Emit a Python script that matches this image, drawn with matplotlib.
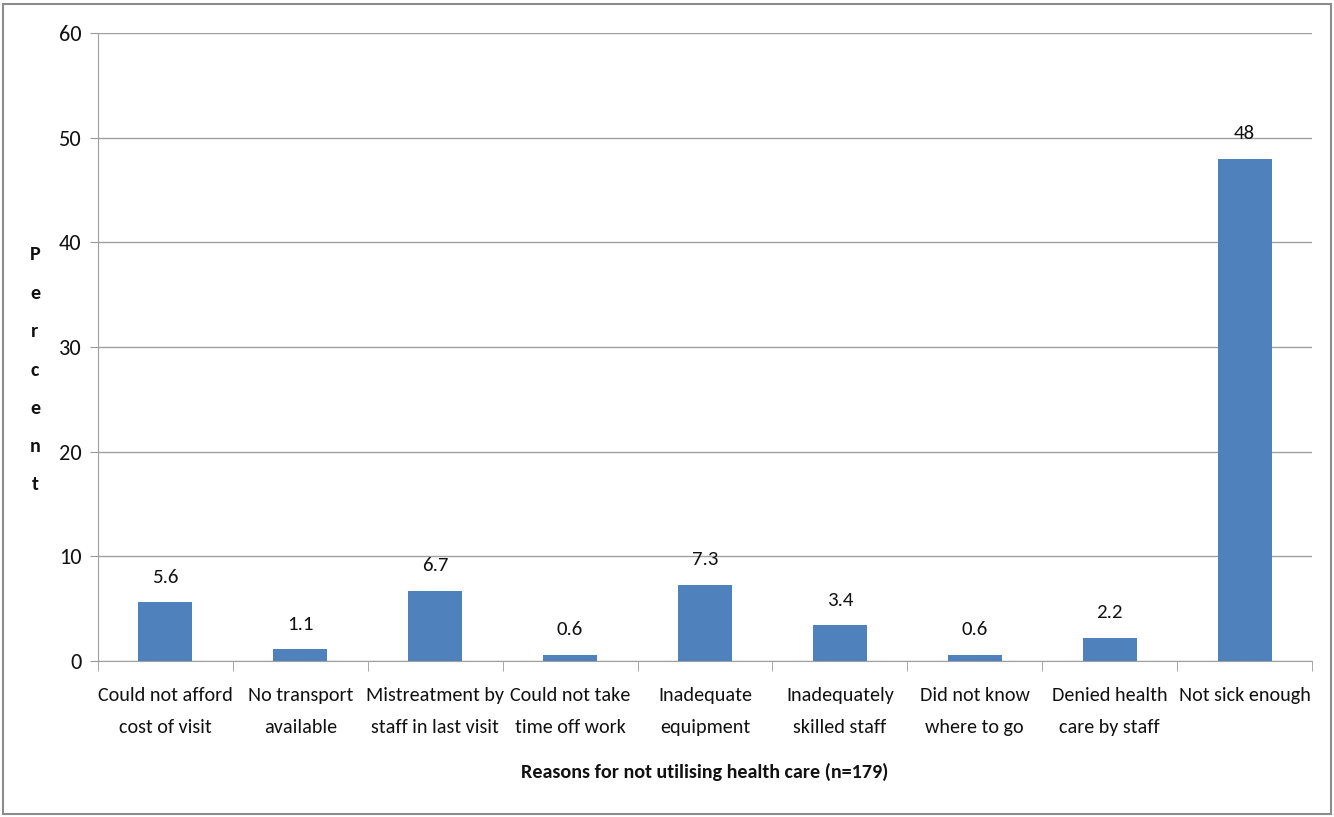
import matplotlib
matplotlib.use("Agg")
import matplotlib.pyplot as plt
from matplotlib.patches import Rectangle
from matplotlib import font_manager

categories = ["Could not afford\ncost of visit", "No transport\navailable",
              "Mistreatment by\nstaff in last visit", "Could not take\ntime off work",
              "Inadequate\nequipment", "Inadequately\nskilled staff",
              "Did not know\nwhere to go", "Denied health\ncare by staff",
              "Not sick enough"]
values = [5.6, 1.1, 6.7, 0.6, 7.3, 3.4, 0.6, 2.2, 48]
labels = ["5.6", "1.1", "6.7", "0.6", "7.3", "3.4", "0.6", "2.2", "48"]
yticks = [0, 10, 20, 30, 40, 50, 60]
ylabel = "Percent"
xlabel = "Reasons for not utilising health care (n=179)"

names = {f.name for f in font_manager.fontManager.ttflist}
fam = "Open Sans"
for cand in ["Carlito", "Calibri", "Liberation Sans Narrow", "Open Sans Condensed",
             "Roboto Condensed", "PT Sans Narrow", "Archivo Narrow", "Fira Sans Condensed"]:
    if cand in names:
        fam = cand
        break
plt.rcParams['font.family'] = [fam, 'DejaVu Sans']

W, H = 1334, 817
fig = plt.figure(figsize=(W/100, H/100), dpi=100)
ax = fig.add_axes([98/W, 1-661/H, (1312-98)/W, (661-33)/H])

x = list(range(len(values)))
ax.bar(x, values, width=0.4, color="#4f81bd", zorder=3)
for xi, v, lab in zip(x, values, labels):
    ax.annotate(lab, (xi, v), xytext=(0, 12), textcoords="offset points",
                ha="center", va="bottom", fontsize=15, color="#111111")

ax.set_xlim(-0.5, len(values) - 0.5)
ax.set_ylim(0, 60)
ax.set_yticks(yticks)
ax.tick_params(axis="y", labelsize=16, length=6, color="#999999", pad=6, labelcolor="#111111")
ax.grid(axis="y", color="#a0a0a0", linewidth=1.0, zorder=0)

ax.set_xticks(x)
ax.set_xticklabels(categories, fontsize=14.5, color="#111111")
for t in ax.get_xticklabels():
    t.set_linespacing(2.05)
ax.tick_params(axis="x", length=0, pad=19)
ax.set_xticks([i - 0.5 for i in range(len(values) + 1)], minor=True)
ax.tick_params(axis="x", which="minor", length=7, color="#999999")

for s in ["top", "right"]:
    ax.spines[s].set_visible(False)
for s in ["left", "bottom"]:
    ax.spines[s].set_color("#a0a0a0")

fig.text(705/W, 1 - 772/H, xlabel, ha="center", va="center", fontsize=14.5,
         fontweight="bold", color="#111111")

n = len(ylabel)
for i, ch in enumerate(ylabel):
    ypix = 255 + i * (485 - 255) / (n - 1)
    fig.text(35/W, 1 - ypix/H, ch, ha="center", va="center", fontsize=14.5,
             fontweight="bold", color="#111111")

fig.patches.append(Rectangle((3/W, 3/H), (W-6)/W, (H-7)/H, transform=fig.transFigure,
                             fill=False, edgecolor="#8c8c8c", linewidth=1.5))

fig.savefig("out.png", dpi=100)
